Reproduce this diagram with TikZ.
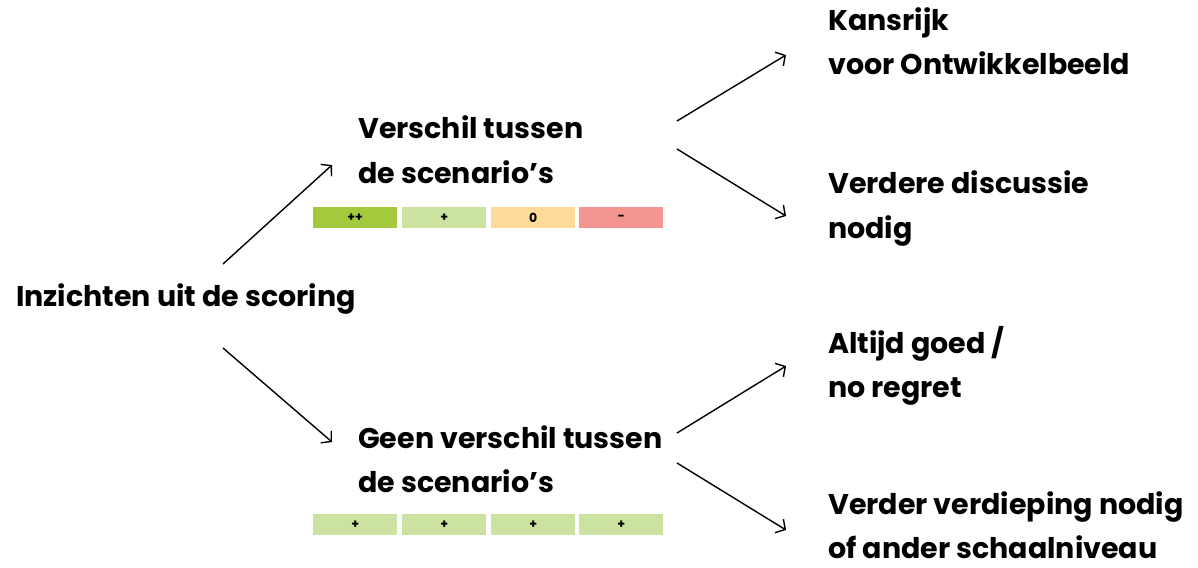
\documentclass[tikz,border=0pt]{standalone}
\usepackage{fontspec}
\setmainfont{Poppins}
\usetikzlibrary{arrows.meta}
\definecolor{cgreen}{HTML}{A4C93C}
\definecolor{clight}{HTML}{CCE2A0}
\definecolor{cyellow}{HTML}{FCDB99}
\definecolor{cred}{HTML}{F59591}
\tikzset{
  lbl/.style={anchor=base west, inner sep=0pt, font=\fontsize{28.5}{32}\selectfont\bfseries},
  cell/.style={minimum width=84pt, minimum height=21pt, inner sep=0pt, anchor=north west, font=\fontsize{12.5}{13}\selectfont\bfseries},
  arr/.style={line width=1.4pt, -{Straight Barb[length=7pt,width=16pt,line width=1.4pt]}}
}
\begin{document}
\begin{tikzpicture}[x=1pt,y=1pt]
\useasboundingbox (0,0) rectangle (1198,-567);
% texts
\node[lbl] (root) at (16,-306) {Inzichten uit de scoring};
\node[lbl] (a1) at (358,-139) {Verschil tussen};
\node[lbl] (a2) at (358,-183) {de scenario’s};
\node[lbl] (b1) at (358,-448) {Geen verschil tussen};
\node[lbl] (b2) at (358,-492) {de scenario’s};
\node[lbl] (c1) at (828,-31) {Kansrijk};
\node[lbl] (c2) at (828,-75) {voor Ontwikkelbeeld};
\node[lbl] (d1) at (828,-193) {Verdere discussie};
\node[lbl] (d2) at (828,-238) {nodig};
\node[lbl] (e1) at (828,-353) {Altijd goed /};
\node[lbl] (e2) at (828,-397) {no regret};
\node[lbl] (f1) at (828,-514) {Verder verdieping nodig};
\node[lbl] (f2) at (828,-558) {of ander schaalniveau};
% score cells
\node[cell, fill=cgreen] (s1) at (313,-207) {++};
\node[cell, fill=clight] (s2) at (402,-207) {+};
\node[cell, fill=cyellow] (s3) at (491,-207) {0};
\node[cell, fill=cred] (s4) at (579,-207) {-};
\node[cell, fill=clight] (t1) at (313,-514) {+};
\node[cell, fill=clight] (t2) at (402,-514) {+};
\node[cell, fill=clight] (t3) at (491,-514) {+};
\node[cell, fill=clight] (t4) at (579,-514) {+};
% arrow endpoints
\coordinate (r1s) at (223,-264);
\coordinate (r1e) at (332,-165);
\coordinate (r2s) at (223,-348);
\coordinate (r2e) at (332,-442);
\coordinate (u1s) at (677,-121);
\coordinate (u1e) at (786,-55);
\coordinate (u2s) at (677,-149);
\coordinate (u2e) at (786,-216);
\coordinate (v1s) at (677,-433);
\coordinate (v1e) at (786,-366);
\coordinate (v2s) at (677,-463);
\coordinate (v2e) at (786,-530);
\draw[arr] (r1s) -- (r1e);
\draw[arr] (r2s) -- (r2e);
\draw[arr] (u1s) -- (u1e);
\draw[arr] (u2s) -- (u2e);
\draw[arr] (v1s) -- (v1e);
\draw[arr] (v2s) -- (v2e);
\end{tikzpicture}
\end{document}
